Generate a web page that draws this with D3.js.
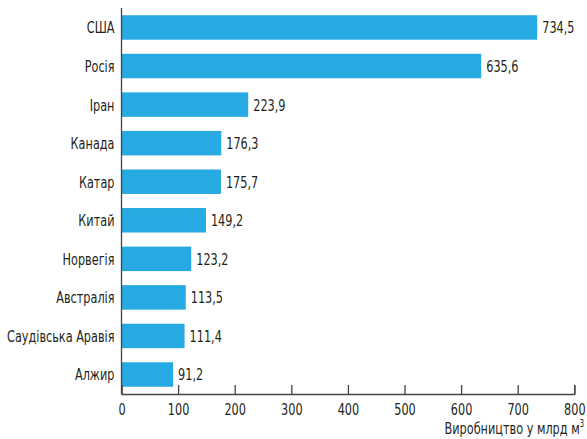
<!DOCTYPE html>
<html><head><meta charset="utf-8">
<script src="https://cdn.jsdelivr.net/npm/d3@7"></script>
<style>body{margin:0;background:#fff}svg{display:block}</style>
</head><body>
<script>
const countries = ["США","Росія","Іран","Канада","Катар","Китай","Норвегія","Австралія","Саудівська Аравія","Алжир"];
const production = [734.5,635.6,223.9,176.3,175.7,149.2,123.2,113.5,111.4,91.2];
const xTicks = [0,100,200,300,400,500,600,700,800];
const axisTitle = "Виробництво у млрд м";

const W=587,H=439;
const FONT='"DejaVu Sans Condensed","DejaVu Sans",sans-serif';
const FS=16.5, SX=0.76;
const svg=d3.select("body").append("svg").attr("width",W).attr("height",H)
  .style("font-family",FONT);
const x=d3.scaleLinear().domain([0,800]).range([121.5,574.3]);
const y=d3.scaleBand().domain(countries).range([8.2,393.8]).paddingInner(0.365).paddingOuter(0.1825);
const txt="#231f20";

svg.append("g").selectAll("rect").data(countries).join("rect")
  .attr("x",x(0)).attr("y",d=>y(d)).attr("height",y.bandwidth())
  .attr("width",(d,i)=>x(production[i])-x(0)).attr("fill","#27a9e1");

svg.append("g").selectAll("text").data(countries).join("text")
  .attr("transform",(d,i)=>`translate(${x(production[i])+5},${y(d)+y.bandwidth()/2}) scale(${SX},1)`)
  .attr("dy","0.36em")
  .attr("font-size",FS).attr("fill",txt)
  .text((d,i)=>d3.format(".1f")(production[i]).replace(".",","));

svg.append("g").selectAll("text").data(countries).join("text")
  .attr("transform",d=>`translate(114.5,${y(d)+y.bandwidth()/2}) scale(${SX},1)`)
  .attr("text-anchor","end").attr("dy","0.36em")
  .attr("font-size",FS).attr("fill",txt).text(d=>d);

const ax=svg.append("g").attr("transform","translate(0,394)")
  .call(d3.axisBottom(x).tickValues(xTicks).tickSize(-9).tickPadding(9).tickFormat(d3.format("d")));
ax.select(".domain").attr("stroke","#444").attr("stroke-width",1.3);
ax.selectAll(".tick line").attr("stroke","#444").attr("stroke-width",1.3);
ax.selectAll(".tick text").attr("font-size",FS).attr("fill",txt).attr("font-family",FONT)
  .attr("transform",`scale(${SX},1)`);

svg.append("line").attr("x1",x(0)).attr("x2",x(0)).attr("y1",8).attr("y2",394)
  .attr("stroke","#444").attr("stroke-width",1.3);

const t=svg.append("text").attr("transform",`translate(584,433.5) scale(${SX},1)`).attr("text-anchor","end")
  .attr("font-size",FS).attr("fill",txt).text(axisTitle);
t.append("tspan").attr("font-size",10).attr("dy",-7).text("3");
</script>
</body></html>
